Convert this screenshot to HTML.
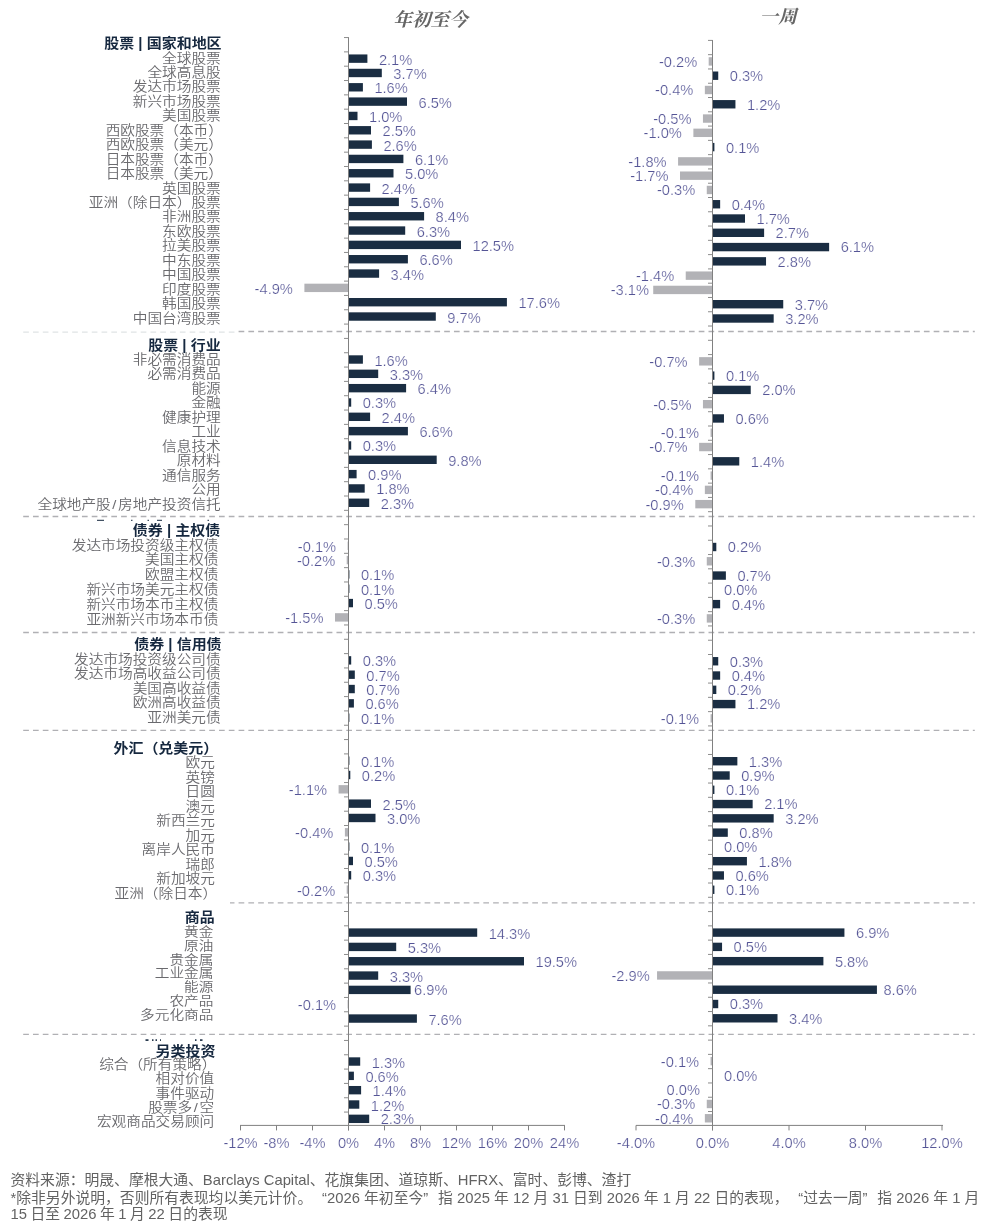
<!DOCTYPE html>
<html lang="zh-CN"><head><meta charset="utf-8"><title>市场表现</title>
<style>
html,body{margin:0;padding:0;background:#fff;}
body{width:993px;height:1231px;overflow:hidden;position:relative;}
svg{position:absolute;left:0;top:0;display:block;}
text{font-family:"Liberation Sans","Noto Sans CJK SC",sans-serif;text-spacing-trim:space-all;}
.d{font-size:14.67px;fill:#555596;stroke:#fff;stroke-width:0.24px;}
.c{font-size:14.67px;fill:#6a6a6e;font-weight:350;}
.h{font-size:15px;fill:#16283f;font-weight:700;}
.t{font-family:"Liberation Serif","Noto Serif CJK SC",serif;font-size:18.67px;font-weight:700;fill:#666;font-style:italic;}
.f{font-size:14.8px;fill:#626262;}
</style></head>
<body>
<svg width="993" height="1231" viewBox="0 0 993 1231">
<defs><clipPath id="cR"><rect x="237.5" y="0" width="760" height="1231"/></clipPath><clipPath id="cH"><rect x="-100" y="-12.8" width="200" height="30"/></clipPath><clipPath id="cR2"><rect x="230" y="0" width="760" height="1231"/></clipPath></defs>
<g id="shapes">
<line x1="23.20" y1="332.15" x2="236.00" y2="332.15" stroke="#e0e4e5" stroke-width="1.2" stroke-dasharray="5.7 4.09"/>
<line x1="23.20" y1="331.45" x2="974.80" y2="331.45" stroke="#b0b0b4" stroke-width="1.35" stroke-dasharray="5.7 4.09" clip-path="url(#cR)"/>
<line x1="23.20" y1="516.45" x2="974.80" y2="516.45" stroke="#b0b0b4" stroke-width="1.35" stroke-dasharray="5.7 4.09"/>
<line x1="23.20" y1="632.45" x2="974.80" y2="632.45" stroke="#b0b0b4" stroke-width="1.35" stroke-dasharray="5.7 4.09"/>
<line x1="23.20" y1="730.40" x2="974.80" y2="730.40" stroke="#b0b0b4" stroke-width="1.35" stroke-dasharray="5.7 4.09"/>
<line x1="23.20" y1="902.90" x2="974.80" y2="902.90" stroke="#b0b0b4" stroke-width="1.35" stroke-dasharray="5.7 4.09" clip-path="url(#cR2)"/>
<line x1="23.20" y1="1034.40" x2="974.80" y2="1034.40" stroke="#b0b0b4" stroke-width="1.35" stroke-dasharray="5.7 4.09"/>
<rect x="348.50" y="54.44" width="18.90" height="8.40" fill="#1a2d42"/>
<rect x="708.68" y="57.22" width="3.82" height="8.40" fill="#b2b2b6"/>
<rect x="348.50" y="68.77" width="33.30" height="8.40" fill="#1a2d42"/>
<rect x="712.50" y="71.50" width="5.74" height="8.40" fill="#1a2d42"/>
<rect x="348.50" y="83.09" width="14.40" height="8.40" fill="#1a2d42"/>
<rect x="704.85" y="85.79" width="7.65" height="8.40" fill="#b2b2b6"/>
<rect x="348.50" y="97.42" width="58.50" height="8.40" fill="#1a2d42"/>
<rect x="712.50" y="100.07" width="22.94" height="8.40" fill="#1a2d42"/>
<rect x="348.50" y="111.75" width="9.00" height="8.40" fill="#1a2d42"/>
<rect x="702.94" y="114.35" width="9.56" height="8.40" fill="#b2b2b6"/>
<rect x="348.50" y="126.08" width="22.50" height="8.40" fill="#1a2d42"/>
<rect x="693.38" y="128.63" width="19.12" height="8.40" fill="#b2b2b6"/>
<rect x="348.50" y="140.40" width="23.40" height="8.40" fill="#1a2d42"/>
<rect x="712.50" y="142.91" width="1.91" height="8.40" fill="#1a2d42"/>
<rect x="348.50" y="154.73" width="54.90" height="8.40" fill="#1a2d42"/>
<rect x="678.08" y="157.19" width="34.42" height="8.40" fill="#b2b2b6"/>
<rect x="348.50" y="169.06" width="45.00" height="8.40" fill="#1a2d42"/>
<rect x="680.00" y="171.48" width="32.50" height="8.40" fill="#b2b2b6"/>
<rect x="348.50" y="183.38" width="21.60" height="8.40" fill="#1a2d42"/>
<rect x="706.76" y="185.76" width="5.74" height="8.40" fill="#b2b2b6"/>
<rect x="348.50" y="197.71" width="50.40" height="8.40" fill="#1a2d42"/>
<rect x="712.50" y="200.04" width="7.65" height="8.40" fill="#1a2d42"/>
<rect x="348.50" y="212.04" width="75.60" height="8.40" fill="#1a2d42"/>
<rect x="712.50" y="214.32" width="32.50" height="8.40" fill="#1a2d42"/>
<rect x="348.50" y="226.36" width="56.70" height="8.40" fill="#1a2d42"/>
<rect x="712.50" y="228.60" width="51.62" height="8.40" fill="#1a2d42"/>
<rect x="348.50" y="240.69" width="112.50" height="8.40" fill="#1a2d42"/>
<rect x="712.50" y="242.88" width="116.63" height="8.40" fill="#1a2d42"/>
<rect x="348.50" y="255.02" width="59.40" height="8.40" fill="#1a2d42"/>
<rect x="712.50" y="257.16" width="53.54" height="8.40" fill="#1a2d42"/>
<rect x="348.50" y="269.35" width="30.60" height="8.40" fill="#1a2d42"/>
<rect x="685.73" y="271.45" width="26.77" height="8.40" fill="#b2b2b6"/>
<rect x="304.40" y="283.67" width="44.10" height="8.40" fill="#b2b2b6"/>
<rect x="653.23" y="285.73" width="59.27" height="8.40" fill="#b2b2b6"/>
<rect x="348.50" y="298.00" width="158.40" height="8.40" fill="#1a2d42"/>
<rect x="712.50" y="300.01" width="70.74" height="8.40" fill="#1a2d42"/>
<rect x="348.50" y="312.33" width="87.30" height="8.40" fill="#1a2d42"/>
<rect x="712.50" y="314.29" width="61.18" height="8.40" fill="#1a2d42"/>
<rect x="348.50" y="355.31" width="14.40" height="8.40" fill="#1a2d42"/>
<rect x="699.12" y="357.14" width="13.38" height="8.40" fill="#b2b2b6"/>
<rect x="348.50" y="369.63" width="29.70" height="8.40" fill="#1a2d42"/>
<rect x="712.50" y="371.42" width="1.91" height="8.40" fill="#1a2d42"/>
<rect x="348.50" y="383.96" width="57.60" height="8.40" fill="#1a2d42"/>
<rect x="712.50" y="385.70" width="38.24" height="8.40" fill="#1a2d42"/>
<rect x="348.50" y="398.29" width="2.70" height="8.40" fill="#1a2d42"/>
<rect x="702.94" y="399.98" width="9.56" height="8.40" fill="#b2b2b6"/>
<rect x="348.50" y="412.61" width="21.60" height="8.40" fill="#1a2d42"/>
<rect x="712.50" y="414.26" width="11.47" height="8.40" fill="#1a2d42"/>
<rect x="348.50" y="426.94" width="59.40" height="8.40" fill="#1a2d42"/>
<rect x="710.59" y="428.54" width="1.91" height="8.40" fill="#b2b2b6"/>
<rect x="348.50" y="441.27" width="2.70" height="8.40" fill="#1a2d42"/>
<rect x="699.12" y="442.83" width="13.38" height="8.40" fill="#b2b2b6"/>
<rect x="348.50" y="455.60" width="88.20" height="8.40" fill="#1a2d42"/>
<rect x="712.50" y="457.11" width="26.77" height="8.40" fill="#1a2d42"/>
<rect x="348.50" y="469.92" width="8.10" height="8.40" fill="#1a2d42"/>
<rect x="710.59" y="471.39" width="1.91" height="8.40" fill="#b2b2b6"/>
<rect x="348.50" y="484.25" width="16.20" height="8.40" fill="#1a2d42"/>
<rect x="704.85" y="485.67" width="7.65" height="8.40" fill="#b2b2b6"/>
<rect x="348.50" y="498.58" width="20.70" height="8.40" fill="#1a2d42"/>
<rect x="695.29" y="499.95" width="17.21" height="8.40" fill="#b2b2b6"/>
<rect x="347.60" y="541.56" width="0.90" height="8.40" fill="#b2b2b6"/>
<rect x="712.50" y="542.80" width="3.82" height="8.40" fill="#1a2d42"/>
<rect x="346.70" y="555.88" width="1.80" height="8.40" fill="#b2b2b6"/>
<rect x="706.76" y="557.08" width="5.74" height="8.40" fill="#b2b2b6"/>
<rect x="348.50" y="570.21" width="0.90" height="8.40" fill="#1a2d42"/>
<rect x="712.50" y="571.36" width="13.38" height="8.40" fill="#1a2d42"/>
<rect x="348.50" y="584.54" width="0.90" height="8.40" fill="#1a2d42"/>
<rect x="348.50" y="598.87" width="4.50" height="8.40" fill="#1a2d42"/>
<rect x="712.50" y="599.92" width="7.65" height="8.40" fill="#1a2d42"/>
<rect x="335.00" y="613.19" width="13.50" height="8.40" fill="#b2b2b6"/>
<rect x="706.76" y="614.20" width="5.74" height="8.40" fill="#b2b2b6"/>
<rect x="348.50" y="656.17" width="2.70" height="8.40" fill="#1a2d42"/>
<rect x="712.50" y="657.05" width="5.74" height="8.40" fill="#1a2d42"/>
<rect x="348.50" y="670.50" width="6.30" height="8.40" fill="#1a2d42"/>
<rect x="712.50" y="671.33" width="7.65" height="8.40" fill="#1a2d42"/>
<rect x="348.50" y="684.83" width="6.30" height="8.40" fill="#1a2d42"/>
<rect x="712.50" y="685.61" width="3.82" height="8.40" fill="#1a2d42"/>
<rect x="348.50" y="699.15" width="5.40" height="8.40" fill="#1a2d42"/>
<rect x="712.50" y="699.89" width="22.94" height="8.40" fill="#1a2d42"/>
<rect x="348.50" y="713.48" width="0.90" height="8.40" fill="#1a2d42"/>
<rect x="710.59" y="714.17" width="1.91" height="8.40" fill="#b2b2b6"/>
<rect x="348.50" y="756.46" width="0.90" height="8.40" fill="#1a2d42"/>
<rect x="712.50" y="757.02" width="24.86" height="8.40" fill="#1a2d42"/>
<rect x="348.50" y="770.79" width="1.80" height="8.40" fill="#1a2d42"/>
<rect x="712.50" y="771.30" width="17.21" height="8.40" fill="#1a2d42"/>
<rect x="338.60" y="785.12" width="9.90" height="8.40" fill="#b2b2b6"/>
<rect x="712.50" y="785.58" width="1.91" height="8.40" fill="#1a2d42"/>
<rect x="348.50" y="799.44" width="22.50" height="8.40" fill="#1a2d42"/>
<rect x="712.50" y="799.86" width="40.15" height="8.40" fill="#1a2d42"/>
<rect x="348.50" y="813.77" width="27.00" height="8.40" fill="#1a2d42"/>
<rect x="712.50" y="814.15" width="61.18" height="8.40" fill="#1a2d42"/>
<rect x="344.90" y="828.10" width="3.60" height="8.40" fill="#b2b2b6"/>
<rect x="712.50" y="828.43" width="15.30" height="8.40" fill="#1a2d42"/>
<rect x="348.50" y="842.42" width="0.90" height="8.40" fill="#1a2d42"/>
<rect x="348.50" y="856.75" width="4.50" height="8.40" fill="#1a2d42"/>
<rect x="712.50" y="856.99" width="34.42" height="8.40" fill="#1a2d42"/>
<rect x="348.50" y="871.08" width="2.70" height="8.40" fill="#1a2d42"/>
<rect x="712.50" y="871.27" width="11.47" height="8.40" fill="#1a2d42"/>
<rect x="346.70" y="885.40" width="1.80" height="8.40" fill="#b2b2b6"/>
<rect x="712.50" y="885.55" width="1.91" height="8.40" fill="#1a2d42"/>
<rect x="348.50" y="928.39" width="128.70" height="8.40" fill="#1a2d42"/>
<rect x="712.50" y="928.40" width="131.93" height="8.40" fill="#1a2d42"/>
<rect x="348.50" y="942.71" width="47.70" height="8.40" fill="#1a2d42"/>
<rect x="712.50" y="942.68" width="9.56" height="8.40" fill="#1a2d42"/>
<rect x="348.50" y="957.04" width="175.50" height="8.40" fill="#1a2d42"/>
<rect x="712.50" y="956.96" width="110.90" height="8.40" fill="#1a2d42"/>
<rect x="348.50" y="971.37" width="29.70" height="8.40" fill="#1a2d42"/>
<rect x="657.05" y="971.24" width="55.45" height="8.40" fill="#b2b2b6"/>
<rect x="348.50" y="985.69" width="62.10" height="8.40" fill="#1a2d42"/>
<rect x="712.50" y="985.52" width="164.43" height="8.40" fill="#1a2d42"/>
<rect x="347.60" y="1000.02" width="0.90" height="8.40" fill="#b2b2b6"/>
<rect x="712.50" y="999.81" width="5.74" height="8.40" fill="#1a2d42"/>
<rect x="348.50" y="1014.35" width="68.40" height="8.40" fill="#1a2d42"/>
<rect x="712.50" y="1014.09" width="65.01" height="8.40" fill="#1a2d42"/>
<rect x="348.50" y="1057.33" width="11.70" height="8.40" fill="#1a2d42"/>
<rect x="710.59" y="1056.93" width="1.91" height="8.40" fill="#b2b2b6"/>
<rect x="348.50" y="1071.66" width="5.40" height="8.40" fill="#1a2d42"/>
<rect x="348.50" y="1085.98" width="12.60" height="8.40" fill="#1a2d42"/>
<rect x="348.50" y="1100.31" width="10.80" height="8.40" fill="#1a2d42"/>
<rect x="706.76" y="1099.78" width="5.74" height="8.40" fill="#b2b2b6"/>
<rect x="348.50" y="1114.64" width="20.70" height="8.40" fill="#1a2d42"/>
<rect x="704.85" y="1114.06" width="7.65" height="8.40" fill="#b2b2b6"/>
<line x1="348.50" y1="37.15" x2="348.50" y2="1130.40" stroke="#808080" stroke-width="1" />
<line x1="344.00" y1="37.55" x2="348.50" y2="37.55" stroke="#8c8c8c" stroke-width="1" />
<line x1="344.00" y1="51.88" x2="348.50" y2="51.88" stroke="#8c8c8c" stroke-width="1" />
<line x1="344.00" y1="66.20" x2="348.50" y2="66.20" stroke="#8c8c8c" stroke-width="1" />
<line x1="344.00" y1="80.53" x2="348.50" y2="80.53" stroke="#8c8c8c" stroke-width="1" />
<line x1="344.00" y1="94.86" x2="348.50" y2="94.86" stroke="#8c8c8c" stroke-width="1" />
<line x1="344.00" y1="109.18" x2="348.50" y2="109.18" stroke="#8c8c8c" stroke-width="1" />
<line x1="344.00" y1="123.51" x2="348.50" y2="123.51" stroke="#8c8c8c" stroke-width="1" />
<line x1="344.00" y1="137.84" x2="348.50" y2="137.84" stroke="#8c8c8c" stroke-width="1" />
<line x1="344.00" y1="152.17" x2="348.50" y2="152.17" stroke="#8c8c8c" stroke-width="1" />
<line x1="344.00" y1="166.49" x2="348.50" y2="166.49" stroke="#8c8c8c" stroke-width="1" />
<line x1="344.00" y1="180.82" x2="348.50" y2="180.82" stroke="#8c8c8c" stroke-width="1" />
<line x1="344.00" y1="195.15" x2="348.50" y2="195.15" stroke="#8c8c8c" stroke-width="1" />
<line x1="344.00" y1="209.47" x2="348.50" y2="209.47" stroke="#8c8c8c" stroke-width="1" />
<line x1="344.00" y1="223.80" x2="348.50" y2="223.80" stroke="#8c8c8c" stroke-width="1" />
<line x1="344.00" y1="238.13" x2="348.50" y2="238.13" stroke="#8c8c8c" stroke-width="1" />
<line x1="344.00" y1="252.45" x2="348.50" y2="252.45" stroke="#8c8c8c" stroke-width="1" />
<line x1="344.00" y1="266.78" x2="348.50" y2="266.78" stroke="#8c8c8c" stroke-width="1" />
<line x1="344.00" y1="281.11" x2="348.50" y2="281.11" stroke="#8c8c8c" stroke-width="1" />
<line x1="344.00" y1="295.44" x2="348.50" y2="295.44" stroke="#8c8c8c" stroke-width="1" />
<line x1="344.00" y1="309.76" x2="348.50" y2="309.76" stroke="#8c8c8c" stroke-width="1" />
<line x1="344.00" y1="324.09" x2="348.50" y2="324.09" stroke="#8c8c8c" stroke-width="1" />
<line x1="344.00" y1="338.42" x2="348.50" y2="338.42" stroke="#8c8c8c" stroke-width="1" />
<line x1="344.00" y1="352.74" x2="348.50" y2="352.74" stroke="#8c8c8c" stroke-width="1" />
<line x1="344.00" y1="367.07" x2="348.50" y2="367.07" stroke="#8c8c8c" stroke-width="1" />
<line x1="344.00" y1="381.40" x2="348.50" y2="381.40" stroke="#8c8c8c" stroke-width="1" />
<line x1="344.00" y1="395.72" x2="348.50" y2="395.72" stroke="#8c8c8c" stroke-width="1" />
<line x1="344.00" y1="410.05" x2="348.50" y2="410.05" stroke="#8c8c8c" stroke-width="1" />
<line x1="344.00" y1="424.38" x2="348.50" y2="424.38" stroke="#8c8c8c" stroke-width="1" />
<line x1="344.00" y1="438.71" x2="348.50" y2="438.71" stroke="#8c8c8c" stroke-width="1" />
<line x1="344.00" y1="453.03" x2="348.50" y2="453.03" stroke="#8c8c8c" stroke-width="1" />
<line x1="344.00" y1="467.36" x2="348.50" y2="467.36" stroke="#8c8c8c" stroke-width="1" />
<line x1="344.00" y1="481.69" x2="348.50" y2="481.69" stroke="#8c8c8c" stroke-width="1" />
<line x1="344.00" y1="496.01" x2="348.50" y2="496.01" stroke="#8c8c8c" stroke-width="1" />
<line x1="344.00" y1="510.34" x2="348.50" y2="510.34" stroke="#8c8c8c" stroke-width="1" />
<line x1="344.00" y1="524.67" x2="348.50" y2="524.67" stroke="#8c8c8c" stroke-width="1" />
<line x1="344.00" y1="538.99" x2="348.50" y2="538.99" stroke="#8c8c8c" stroke-width="1" />
<line x1="344.00" y1="553.32" x2="348.50" y2="553.32" stroke="#8c8c8c" stroke-width="1" />
<line x1="344.00" y1="567.65" x2="348.50" y2="567.65" stroke="#8c8c8c" stroke-width="1" />
<line x1="344.00" y1="581.97" x2="348.50" y2="581.97" stroke="#8c8c8c" stroke-width="1" />
<line x1="344.00" y1="596.30" x2="348.50" y2="596.30" stroke="#8c8c8c" stroke-width="1" />
<line x1="344.00" y1="610.63" x2="348.50" y2="610.63" stroke="#8c8c8c" stroke-width="1" />
<line x1="344.00" y1="624.96" x2="348.50" y2="624.96" stroke="#8c8c8c" stroke-width="1" />
<line x1="344.00" y1="639.28" x2="348.50" y2="639.28" stroke="#8c8c8c" stroke-width="1" />
<line x1="344.00" y1="653.61" x2="348.50" y2="653.61" stroke="#8c8c8c" stroke-width="1" />
<line x1="344.00" y1="667.94" x2="348.50" y2="667.94" stroke="#8c8c8c" stroke-width="1" />
<line x1="344.00" y1="682.26" x2="348.50" y2="682.26" stroke="#8c8c8c" stroke-width="1" />
<line x1="344.00" y1="696.59" x2="348.50" y2="696.59" stroke="#8c8c8c" stroke-width="1" />
<line x1="344.00" y1="710.92" x2="348.50" y2="710.92" stroke="#8c8c8c" stroke-width="1" />
<line x1="344.00" y1="725.24" x2="348.50" y2="725.24" stroke="#8c8c8c" stroke-width="1" />
<line x1="344.00" y1="739.57" x2="348.50" y2="739.57" stroke="#8c8c8c" stroke-width="1" />
<line x1="344.00" y1="753.90" x2="348.50" y2="753.90" stroke="#8c8c8c" stroke-width="1" />
<line x1="344.00" y1="768.23" x2="348.50" y2="768.23" stroke="#8c8c8c" stroke-width="1" />
<line x1="344.00" y1="782.55" x2="348.50" y2="782.55" stroke="#8c8c8c" stroke-width="1" />
<line x1="344.00" y1="796.88" x2="348.50" y2="796.88" stroke="#8c8c8c" stroke-width="1" />
<line x1="344.00" y1="811.21" x2="348.50" y2="811.21" stroke="#8c8c8c" stroke-width="1" />
<line x1="344.00" y1="825.53" x2="348.50" y2="825.53" stroke="#8c8c8c" stroke-width="1" />
<line x1="344.00" y1="839.86" x2="348.50" y2="839.86" stroke="#8c8c8c" stroke-width="1" />
<line x1="344.00" y1="854.19" x2="348.50" y2="854.19" stroke="#8c8c8c" stroke-width="1" />
<line x1="344.00" y1="868.51" x2="348.50" y2="868.51" stroke="#8c8c8c" stroke-width="1" />
<line x1="344.00" y1="882.84" x2="348.50" y2="882.84" stroke="#8c8c8c" stroke-width="1" />
<line x1="344.00" y1="897.17" x2="348.50" y2="897.17" stroke="#8c8c8c" stroke-width="1" />
<line x1="344.00" y1="911.50" x2="348.50" y2="911.50" stroke="#8c8c8c" stroke-width="1" />
<line x1="344.00" y1="925.82" x2="348.50" y2="925.82" stroke="#8c8c8c" stroke-width="1" />
<line x1="344.00" y1="940.15" x2="348.50" y2="940.15" stroke="#8c8c8c" stroke-width="1" />
<line x1="344.00" y1="954.48" x2="348.50" y2="954.48" stroke="#8c8c8c" stroke-width="1" />
<line x1="344.00" y1="968.80" x2="348.50" y2="968.80" stroke="#8c8c8c" stroke-width="1" />
<line x1="344.00" y1="983.13" x2="348.50" y2="983.13" stroke="#8c8c8c" stroke-width="1" />
<line x1="344.00" y1="997.46" x2="348.50" y2="997.46" stroke="#8c8c8c" stroke-width="1" />
<line x1="344.00" y1="1011.78" x2="348.50" y2="1011.78" stroke="#8c8c8c" stroke-width="1" />
<line x1="344.00" y1="1026.11" x2="348.50" y2="1026.11" stroke="#8c8c8c" stroke-width="1" />
<line x1="344.00" y1="1040.44" x2="348.50" y2="1040.44" stroke="#8c8c8c" stroke-width="1" />
<line x1="344.00" y1="1054.77" x2="348.50" y2="1054.77" stroke="#8c8c8c" stroke-width="1" />
<line x1="344.00" y1="1069.09" x2="348.50" y2="1069.09" stroke="#8c8c8c" stroke-width="1" />
<line x1="344.00" y1="1083.42" x2="348.50" y2="1083.42" stroke="#8c8c8c" stroke-width="1" />
<line x1="344.00" y1="1097.75" x2="348.50" y2="1097.75" stroke="#8c8c8c" stroke-width="1" />
<line x1="344.00" y1="1112.07" x2="348.50" y2="1112.07" stroke="#8c8c8c" stroke-width="1" />
<line x1="712.50" y1="40.00" x2="712.50" y2="1130.40" stroke="#808080" stroke-width="1" />
<line x1="708.00" y1="40.40" x2="712.50" y2="40.40" stroke="#8c8c8c" stroke-width="1" />
<line x1="708.00" y1="54.68" x2="712.50" y2="54.68" stroke="#8c8c8c" stroke-width="1" />
<line x1="708.00" y1="68.96" x2="712.50" y2="68.96" stroke="#8c8c8c" stroke-width="1" />
<line x1="708.00" y1="83.24" x2="712.50" y2="83.24" stroke="#8c8c8c" stroke-width="1" />
<line x1="708.00" y1="97.53" x2="712.50" y2="97.53" stroke="#8c8c8c" stroke-width="1" />
<line x1="708.00" y1="111.81" x2="712.50" y2="111.81" stroke="#8c8c8c" stroke-width="1" />
<line x1="708.00" y1="126.09" x2="712.50" y2="126.09" stroke="#8c8c8c" stroke-width="1" />
<line x1="708.00" y1="140.37" x2="712.50" y2="140.37" stroke="#8c8c8c" stroke-width="1" />
<line x1="708.00" y1="154.65" x2="712.50" y2="154.65" stroke="#8c8c8c" stroke-width="1" />
<line x1="708.00" y1="168.93" x2="712.50" y2="168.93" stroke="#8c8c8c" stroke-width="1" />
<line x1="708.00" y1="183.22" x2="712.50" y2="183.22" stroke="#8c8c8c" stroke-width="1" />
<line x1="708.00" y1="197.50" x2="712.50" y2="197.50" stroke="#8c8c8c" stroke-width="1" />
<line x1="708.00" y1="211.78" x2="712.50" y2="211.78" stroke="#8c8c8c" stroke-width="1" />
<line x1="708.00" y1="226.06" x2="712.50" y2="226.06" stroke="#8c8c8c" stroke-width="1" />
<line x1="708.00" y1="240.34" x2="712.50" y2="240.34" stroke="#8c8c8c" stroke-width="1" />
<line x1="708.00" y1="254.62" x2="712.50" y2="254.62" stroke="#8c8c8c" stroke-width="1" />
<line x1="708.00" y1="268.91" x2="712.50" y2="268.91" stroke="#8c8c8c" stroke-width="1" />
<line x1="708.00" y1="283.19" x2="712.50" y2="283.19" stroke="#8c8c8c" stroke-width="1" />
<line x1="708.00" y1="297.47" x2="712.50" y2="297.47" stroke="#8c8c8c" stroke-width="1" />
<line x1="708.00" y1="311.75" x2="712.50" y2="311.75" stroke="#8c8c8c" stroke-width="1" />
<line x1="708.00" y1="326.03" x2="712.50" y2="326.03" stroke="#8c8c8c" stroke-width="1" />
<line x1="708.00" y1="340.31" x2="712.50" y2="340.31" stroke="#8c8c8c" stroke-width="1" />
<line x1="708.00" y1="354.59" x2="712.50" y2="354.59" stroke="#8c8c8c" stroke-width="1" />
<line x1="708.00" y1="368.88" x2="712.50" y2="368.88" stroke="#8c8c8c" stroke-width="1" />
<line x1="708.00" y1="383.16" x2="712.50" y2="383.16" stroke="#8c8c8c" stroke-width="1" />
<line x1="708.00" y1="397.44" x2="712.50" y2="397.44" stroke="#8c8c8c" stroke-width="1" />
<line x1="708.00" y1="411.72" x2="712.50" y2="411.72" stroke="#8c8c8c" stroke-width="1" />
<line x1="708.00" y1="426.00" x2="712.50" y2="426.00" stroke="#8c8c8c" stroke-width="1" />
<line x1="708.00" y1="440.28" x2="712.50" y2="440.28" stroke="#8c8c8c" stroke-width="1" />
<line x1="708.00" y1="454.57" x2="712.50" y2="454.57" stroke="#8c8c8c" stroke-width="1" />
<line x1="708.00" y1="468.85" x2="712.50" y2="468.85" stroke="#8c8c8c" stroke-width="1" />
<line x1="708.00" y1="483.13" x2="712.50" y2="483.13" stroke="#8c8c8c" stroke-width="1" />
<line x1="708.00" y1="497.41" x2="712.50" y2="497.41" stroke="#8c8c8c" stroke-width="1" />
<line x1="708.00" y1="511.69" x2="712.50" y2="511.69" stroke="#8c8c8c" stroke-width="1" />
<line x1="708.00" y1="525.97" x2="712.50" y2="525.97" stroke="#8c8c8c" stroke-width="1" />
<line x1="708.00" y1="540.26" x2="712.50" y2="540.26" stroke="#8c8c8c" stroke-width="1" />
<line x1="708.00" y1="554.54" x2="712.50" y2="554.54" stroke="#8c8c8c" stroke-width="1" />
<line x1="708.00" y1="568.82" x2="712.50" y2="568.82" stroke="#8c8c8c" stroke-width="1" />
<line x1="708.00" y1="583.10" x2="712.50" y2="583.10" stroke="#8c8c8c" stroke-width="1" />
<line x1="708.00" y1="597.38" x2="712.50" y2="597.38" stroke="#8c8c8c" stroke-width="1" />
<line x1="708.00" y1="611.66" x2="712.50" y2="611.66" stroke="#8c8c8c" stroke-width="1" />
<line x1="708.00" y1="625.94" x2="712.50" y2="625.94" stroke="#8c8c8c" stroke-width="1" />
<line x1="708.00" y1="640.23" x2="712.50" y2="640.23" stroke="#8c8c8c" stroke-width="1" />
<line x1="708.00" y1="654.51" x2="712.50" y2="654.51" stroke="#8c8c8c" stroke-width="1" />
<line x1="708.00" y1="668.79" x2="712.50" y2="668.79" stroke="#8c8c8c" stroke-width="1" />
<line x1="708.00" y1="683.07" x2="712.50" y2="683.07" stroke="#8c8c8c" stroke-width="1" />
<line x1="708.00" y1="697.35" x2="712.50" y2="697.35" stroke="#8c8c8c" stroke-width="1" />
<line x1="708.00" y1="711.63" x2="712.50" y2="711.63" stroke="#8c8c8c" stroke-width="1" />
<line x1="708.00" y1="725.92" x2="712.50" y2="725.92" stroke="#8c8c8c" stroke-width="1" />
<line x1="708.00" y1="740.20" x2="712.50" y2="740.20" stroke="#8c8c8c" stroke-width="1" />
<line x1="708.00" y1="754.48" x2="712.50" y2="754.48" stroke="#8c8c8c" stroke-width="1" />
<line x1="708.00" y1="768.76" x2="712.50" y2="768.76" stroke="#8c8c8c" stroke-width="1" />
<line x1="708.00" y1="783.04" x2="712.50" y2="783.04" stroke="#8c8c8c" stroke-width="1" />
<line x1="708.00" y1="797.32" x2="712.50" y2="797.32" stroke="#8c8c8c" stroke-width="1" />
<line x1="708.00" y1="811.61" x2="712.50" y2="811.61" stroke="#8c8c8c" stroke-width="1" />
<line x1="708.00" y1="825.89" x2="712.50" y2="825.89" stroke="#8c8c8c" stroke-width="1" />
<line x1="708.00" y1="840.17" x2="712.50" y2="840.17" stroke="#8c8c8c" stroke-width="1" />
<line x1="708.00" y1="854.45" x2="712.50" y2="854.45" stroke="#8c8c8c" stroke-width="1" />
<line x1="708.00" y1="868.73" x2="712.50" y2="868.73" stroke="#8c8c8c" stroke-width="1" />
<line x1="708.00" y1="883.01" x2="712.50" y2="883.01" stroke="#8c8c8c" stroke-width="1" />
<line x1="708.00" y1="897.29" x2="712.50" y2="897.29" stroke="#8c8c8c" stroke-width="1" />
<line x1="708.00" y1="911.58" x2="712.50" y2="911.58" stroke="#8c8c8c" stroke-width="1" />
<line x1="708.00" y1="925.86" x2="712.50" y2="925.86" stroke="#8c8c8c" stroke-width="1" />
<line x1="708.00" y1="940.14" x2="712.50" y2="940.14" stroke="#8c8c8c" stroke-width="1" />
<line x1="708.00" y1="954.42" x2="712.50" y2="954.42" stroke="#8c8c8c" stroke-width="1" />
<line x1="708.00" y1="968.70" x2="712.50" y2="968.70" stroke="#8c8c8c" stroke-width="1" />
<line x1="708.00" y1="982.98" x2="712.50" y2="982.98" stroke="#8c8c8c" stroke-width="1" />
<line x1="708.00" y1="997.27" x2="712.50" y2="997.27" stroke="#8c8c8c" stroke-width="1" />
<line x1="708.00" y1="1011.55" x2="712.50" y2="1011.55" stroke="#8c8c8c" stroke-width="1" />
<line x1="708.00" y1="1025.83" x2="712.50" y2="1025.83" stroke="#8c8c8c" stroke-width="1" />
<line x1="708.00" y1="1040.11" x2="712.50" y2="1040.11" stroke="#8c8c8c" stroke-width="1" />
<line x1="708.00" y1="1054.39" x2="712.50" y2="1054.39" stroke="#8c8c8c" stroke-width="1" />
<line x1="708.00" y1="1068.67" x2="712.50" y2="1068.67" stroke="#8c8c8c" stroke-width="1" />
<line x1="708.00" y1="1082.96" x2="712.50" y2="1082.96" stroke="#8c8c8c" stroke-width="1" />
<line x1="708.00" y1="1097.24" x2="712.50" y2="1097.24" stroke="#8c8c8c" stroke-width="1" />
<line x1="708.00" y1="1111.52" x2="712.50" y2="1111.52" stroke="#8c8c8c" stroke-width="1" />
<line x1="240.00" y1="1125.40" x2="565.00" y2="1125.40" stroke="#808080" stroke-width="1" />
<line x1="240.50" y1="1125.40" x2="240.50" y2="1130.40" stroke="#808080" stroke-width="1" />
<line x1="276.50" y1="1125.40" x2="276.50" y2="1130.40" stroke="#808080" stroke-width="1" />
<line x1="312.50" y1="1125.40" x2="312.50" y2="1130.40" stroke="#808080" stroke-width="1" />
<line x1="348.50" y1="1125.40" x2="348.50" y2="1130.40" stroke="#808080" stroke-width="1" />
<line x1="384.50" y1="1125.40" x2="384.50" y2="1130.40" stroke="#808080" stroke-width="1" />
<line x1="420.50" y1="1125.40" x2="420.50" y2="1130.40" stroke="#808080" stroke-width="1" />
<line x1="456.50" y1="1125.40" x2="456.50" y2="1130.40" stroke="#808080" stroke-width="1" />
<line x1="492.50" y1="1125.40" x2="492.50" y2="1130.40" stroke="#808080" stroke-width="1" />
<line x1="528.50" y1="1125.40" x2="528.50" y2="1130.40" stroke="#808080" stroke-width="1" />
<line x1="564.50" y1="1125.40" x2="564.50" y2="1130.40" stroke="#808080" stroke-width="1" />
<line x1="636.00" y1="1125.40" x2="943.00" y2="1125.40" stroke="#808080" stroke-width="1" />
<line x1="636.00" y1="1125.40" x2="636.00" y2="1130.40" stroke="#808080" stroke-width="1" />
<line x1="712.50" y1="1125.40" x2="712.50" y2="1130.40" stroke="#808080" stroke-width="1" />
<line x1="789.00" y1="1125.40" x2="789.00" y2="1130.40" stroke="#808080" stroke-width="1" />
<line x1="865.50" y1="1125.40" x2="865.50" y2="1130.40" stroke="#808080" stroke-width="1" />
<line x1="942.00" y1="1125.40" x2="942.00" y2="1130.40" stroke="#808080" stroke-width="1" />
<rect x="97.00" y="519.80" width="7.00" height="1.00" fill="#16283f"/>
<rect x="131.00" y="519.80" width="1.50" height="1.00" fill="#16283f"/>
<rect x="147.50" y="519.80" width="1.50" height="1.00" fill="#16283f"/>
<rect x="157.00" y="519.80" width="5.00" height="1.00" fill="#16283f"/>
<rect x="207.50" y="519.80" width="1.50" height="1.00" fill="#16283f"/>
<rect x="145.50" y="1039.30" width="3.00" height="1.60" fill="#16283f"/>
<rect x="152.00" y="1039.30" width="1.50" height="1.60" fill="#16283f"/>
<rect x="155.50" y="1039.30" width="1.50" height="1.60" fill="#16283f"/>
<rect x="160.00" y="1039.30" width="1.00" height="1.60" fill="#16283f"/>
<rect x="195.00" y="1039.30" width="1.50" height="1.60" fill="#16283f"/>
<rect x="200.00" y="1039.30" width="2.50" height="1.60" fill="#16283f"/>
</g>
<g id="labels">
<text transform="translate(221.60,48.20) scale(1,0.93)" class="h" text-anchor="end" >股票<tspan class="bar"> | </tspan>国家和地区</text>
<text transform="translate(220.70,62.60) scale(1,0.92)" class="c" text-anchor="end" >全球股票</text>
<text x="378.90" y="64.64" class="d" text-anchor="start" >2.1%</text>
<text x="697.18" y="66.82" class="d" text-anchor="end" >-0.2%</text>
<text transform="translate(220.70,77.04) scale(1,0.92)" class="c" text-anchor="end" >全球高息股</text>
<text x="393.30" y="78.97" class="d" text-anchor="start" >3.7%</text>
<text x="729.74" y="81.10" class="d" text-anchor="start" >0.3%</text>
<text transform="translate(220.70,91.49) scale(1,0.92)" class="c" text-anchor="end" >发达市场股票</text>
<text x="374.40" y="93.29" class="d" text-anchor="start" >1.6%</text>
<text x="693.35" y="95.39" class="d" text-anchor="end" >-0.4%</text>
<text transform="translate(220.70,105.93) scale(1,0.92)" class="c" text-anchor="end" >新兴市场股票</text>
<text x="418.50" y="107.62" class="d" text-anchor="start" >6.5%</text>
<text x="746.94" y="109.67" class="d" text-anchor="start" >1.2%</text>
<text transform="translate(220.70,120.38) scale(1,0.92)" class="c" text-anchor="end" >美国股票</text>
<text x="369.00" y="121.95" class="d" text-anchor="start" >1.0%</text>
<text x="691.44" y="123.95" class="d" text-anchor="end" >-0.5%</text>
<text transform="translate(222.90,134.82) scale(1,0.92)" class="c" text-anchor="end" >西欧股票（本币）</text>
<text x="382.50" y="136.28" class="d" text-anchor="start" >2.5%</text>
<text x="681.88" y="138.23" class="d" text-anchor="end" >-1.0%</text>
<text transform="translate(222.90,149.27) scale(1,0.92)" class="c" text-anchor="end" >西欧股票（美元）</text>
<text x="383.40" y="150.60" class="d" text-anchor="start" >2.6%</text>
<text x="725.91" y="152.51" class="d" text-anchor="start" >0.1%</text>
<text transform="translate(222.90,163.71) scale(1,0.92)" class="c" text-anchor="end" >日本股票（本币）</text>
<text x="414.90" y="164.93" class="d" text-anchor="start" >6.1%</text>
<text x="666.58" y="166.79" class="d" text-anchor="end" >-1.8%</text>
<text transform="translate(222.90,178.16) scale(1,0.92)" class="c" text-anchor="end" >日本股票（美元）</text>
<text x="405.00" y="179.26" class="d" text-anchor="start" >5.0%</text>
<text x="668.50" y="181.08" class="d" text-anchor="end" >-1.7%</text>
<text transform="translate(220.70,192.60) scale(1,0.92)" class="c" text-anchor="end" >英国股票</text>
<text x="381.60" y="193.58" class="d" text-anchor="start" >2.4%</text>
<text x="695.26" y="195.36" class="d" text-anchor="end" >-0.3%</text>
<text transform="translate(220.70,207.04) scale(1,0.92)" class="c" text-anchor="end" >亚洲（除日本）股票</text>
<text x="410.40" y="207.91" class="d" text-anchor="start" >5.6%</text>
<text x="731.65" y="209.64" class="d" text-anchor="start" >0.4%</text>
<text transform="translate(220.70,221.49) scale(1,0.92)" class="c" text-anchor="end" >非洲股票</text>
<text x="435.60" y="222.24" class="d" text-anchor="start" >8.4%</text>
<text x="756.50" y="223.92" class="d" text-anchor="start" >1.7%</text>
<text transform="translate(220.70,235.93) scale(1,0.92)" class="c" text-anchor="end" >东欧股票</text>
<text x="416.70" y="236.56" class="d" text-anchor="start" >6.3%</text>
<text x="775.62" y="238.20" class="d" text-anchor="start" >2.7%</text>
<text transform="translate(220.70,250.38) scale(1,0.92)" class="c" text-anchor="end" >拉美股票</text>
<text x="472.50" y="250.89" class="d" text-anchor="start" >12.5%</text>
<text x="840.63" y="252.48" class="d" text-anchor="start" >6.1%</text>
<text transform="translate(220.70,264.82) scale(1,0.92)" class="c" text-anchor="end" >中东股票</text>
<text x="419.40" y="265.22" class="d" text-anchor="start" >6.6%</text>
<text x="777.54" y="266.76" class="d" text-anchor="start" >2.8%</text>
<text transform="translate(220.70,279.27) scale(1,0.92)" class="c" text-anchor="end" >中国股票</text>
<text x="390.60" y="279.55" class="d" text-anchor="start" >3.4%</text>
<text x="674.23" y="281.05" class="d" text-anchor="end" >-1.4%</text>
<text transform="translate(220.70,293.71) scale(1,0.92)" class="c" text-anchor="end" >印度股票</text>
<text x="292.90" y="293.87" class="d" text-anchor="end" >-4.9%</text>
<text x="649.03" y="295.33" class="d" text-anchor="end" >-3.1%</text>
<text transform="translate(220.70,308.16) scale(1,0.92)" class="c" text-anchor="end" >韩国股票</text>
<text x="518.40" y="308.20" class="d" text-anchor="start" >17.6%</text>
<text x="794.74" y="309.61" class="d" text-anchor="start" >3.7%</text>
<text transform="translate(220.70,322.60) scale(1,0.92)" class="c" text-anchor="end" >中国台湾股票</text>
<text x="447.30" y="322.53" class="d" text-anchor="start" >9.7%</text>
<text x="785.18" y="323.89" class="d" text-anchor="start" >3.2%</text>
<text transform="translate(220.70,350.20) scale(1,0.93)" class="h" text-anchor="end" >股票<tspan class="bar"> | </tspan>行业</text>
<text transform="translate(220.70,363.60) scale(1,0.92)" class="c" text-anchor="end" >非必需消费品</text>
<text x="374.40" y="365.51" class="d" text-anchor="start" >1.6%</text>
<text x="687.62" y="366.74" class="d" text-anchor="end" >-0.7%</text>
<text transform="translate(220.70,378.10) scale(1,0.92)" class="c" text-anchor="end" >必需消费品</text>
<text x="389.70" y="379.83" class="d" text-anchor="start" >3.3%</text>
<text x="725.91" y="381.02" class="d" text-anchor="start" >0.1%</text>
<text transform="translate(220.70,392.60) scale(1,0.92)" class="c" text-anchor="end" >能源</text>
<text x="417.60" y="394.16" class="d" text-anchor="start" >6.4%</text>
<text x="762.24" y="395.30" class="d" text-anchor="start" >2.0%</text>
<text transform="translate(220.70,407.10) scale(1,0.92)" class="c" text-anchor="end" >金融</text>
<text x="362.70" y="408.49" class="d" text-anchor="start" >0.3%</text>
<text x="691.44" y="409.58" class="d" text-anchor="end" >-0.5%</text>
<text transform="translate(220.70,421.60) scale(1,0.92)" class="c" text-anchor="end" >健康护理</text>
<text x="381.60" y="422.81" class="d" text-anchor="start" >2.4%</text>
<text x="735.47" y="423.86" class="d" text-anchor="start" >0.6%</text>
<text transform="translate(220.70,436.10) scale(1,0.92)" class="c" text-anchor="end" >工业</text>
<text x="419.40" y="437.14" class="d" text-anchor="start" >6.6%</text>
<text x="699.09" y="438.14" class="d" text-anchor="end" >-0.1%</text>
<text transform="translate(220.70,450.60) scale(1,0.92)" class="c" text-anchor="end" >信息技术</text>
<text x="362.70" y="451.47" class="d" text-anchor="start" >0.3%</text>
<text x="687.62" y="452.43" class="d" text-anchor="end" >-0.7%</text>
<text transform="translate(220.70,465.10) scale(1,0.92)" class="c" text-anchor="end" >原材料</text>
<text x="448.20" y="465.80" class="d" text-anchor="start" >9.8%</text>
<text x="750.77" y="466.71" class="d" text-anchor="start" >1.4%</text>
<text transform="translate(220.70,479.60) scale(1,0.92)" class="c" text-anchor="end" >通信服务</text>
<text x="368.10" y="480.12" class="d" text-anchor="start" >0.9%</text>
<text x="699.09" y="480.99" class="d" text-anchor="end" >-0.1%</text>
<text transform="translate(220.70,494.10) scale(1,0.92)" class="c" text-anchor="end" >公用</text>
<text x="376.20" y="494.45" class="d" text-anchor="start" >1.8%</text>
<text x="693.35" y="495.27" class="d" text-anchor="end" >-0.4%</text>
<text transform="translate(220.70,508.60) scale(1,0.92)" class="c" text-anchor="end" >全球地产股<tspan dx="1.6">/</tspan><tspan dx="1.7">房地产投资信托</tspan></text>
<text x="380.70" y="508.78" class="d" text-anchor="start" >2.3%</text>
<text x="683.79" y="509.55" class="d" text-anchor="end" >-0.9%</text>
<text transform="translate(220.20,535.40) scale(1,0.93)" class="h" text-anchor="end" >债券<tspan class="bar"> | </tspan>主权债</text>
<text transform="translate(218.30,549.50) scale(1,0.92)" class="c" text-anchor="end" >发达市场投资级主权债</text>
<text x="336.10" y="551.76" class="d" text-anchor="end" >-0.1%</text>
<text x="727.82" y="552.40" class="d" text-anchor="start" >0.2%</text>
<text transform="translate(218.30,564.38) scale(1,0.92)" class="c" text-anchor="end" >美国主权债</text>
<text x="335.20" y="566.08" class="d" text-anchor="end" >-0.2%</text>
<text x="695.26" y="566.68" class="d" text-anchor="end" >-0.3%</text>
<text transform="translate(218.30,579.26) scale(1,0.92)" class="c" text-anchor="end" >欧盟主权债</text>
<text x="360.90" y="580.41" class="d" text-anchor="start" >0.1%</text>
<text x="737.38" y="580.96" class="d" text-anchor="start" >0.7%</text>
<text transform="translate(218.30,594.14) scale(1,0.92)" class="c" text-anchor="end" >新兴市场美元主权债</text>
<text x="360.90" y="594.74" class="d" text-anchor="start" >0.1%</text>
<text x="724.00" y="595.24" class="d" text-anchor="start" >0.0%</text>
<text transform="translate(218.30,609.02) scale(1,0.92)" class="c" text-anchor="end" >新兴市场本币主权债</text>
<text x="364.50" y="609.07" class="d" text-anchor="start" >0.5%</text>
<text x="731.65" y="609.52" class="d" text-anchor="start" >0.4%</text>
<text transform="translate(218.30,623.90) scale(1,0.92)" class="c" text-anchor="end" >亚洲新兴市场本币债</text>
<text x="323.50" y="623.39" class="d" text-anchor="end" >-1.5%</text>
<text x="695.26" y="623.80" class="d" text-anchor="end" >-0.3%</text>
<text transform="translate(221.60,649.20) scale(1,0.93)" class="h" text-anchor="end" >债券<tspan class="bar"> | </tspan>信用债</text>
<text transform="translate(220.60,663.50) scale(1,0.92)" class="c" text-anchor="end" >发达市场投资级公司债</text>
<text x="362.70" y="666.37" class="d" text-anchor="start" >0.3%</text>
<text x="729.74" y="666.65" class="d" text-anchor="start" >0.3%</text>
<text transform="translate(220.60,678.00) scale(1,0.92)" class="c" text-anchor="end" >发达市场高收益公司债</text>
<text x="366.30" y="680.70" class="d" text-anchor="start" >0.7%</text>
<text x="731.65" y="680.93" class="d" text-anchor="start" >0.4%</text>
<text transform="translate(220.60,692.50) scale(1,0.92)" class="c" text-anchor="end" >美国高收益债</text>
<text x="366.30" y="695.03" class="d" text-anchor="start" >0.7%</text>
<text x="727.82" y="695.21" class="d" text-anchor="start" >0.2%</text>
<text transform="translate(220.60,707.00) scale(1,0.92)" class="c" text-anchor="end" >欧洲高收益债</text>
<text x="365.40" y="709.35" class="d" text-anchor="start" >0.6%</text>
<text x="746.94" y="709.49" class="d" text-anchor="start" >1.2%</text>
<text transform="translate(220.60,721.50) scale(1,0.92)" class="c" text-anchor="end" >亚洲美元债</text>
<text x="360.90" y="723.68" class="d" text-anchor="start" >0.1%</text>
<text x="699.09" y="723.77" class="d" text-anchor="end" >-0.1%</text>
<text transform="translate(218.30,753.00) scale(1,0.93)" class="h" text-anchor="end" >外汇（兑美元）</text>
<text transform="translate(214.90,767.40) scale(1,0.92)" class="c" text-anchor="end" >欧元</text>
<text x="360.90" y="766.66" class="d" text-anchor="start" >0.1%</text>
<text x="748.86" y="766.62" class="d" text-anchor="start" >1.3%</text>
<text transform="translate(214.90,781.88) scale(1,0.92)" class="c" text-anchor="end" >英镑</text>
<text x="361.80" y="780.99" class="d" text-anchor="start" >0.2%</text>
<text x="741.21" y="780.90" class="d" text-anchor="start" >0.9%</text>
<text transform="translate(214.90,796.36) scale(1,0.92)" class="c" text-anchor="end" >日圆</text>
<text x="327.10" y="795.32" class="d" text-anchor="end" >-1.1%</text>
<text x="725.91" y="795.18" class="d" text-anchor="start" >0.1%</text>
<text transform="translate(214.90,810.83) scale(1,0.92)" class="c" text-anchor="end" >澳元</text>
<text x="382.50" y="809.64" class="d" text-anchor="start" >2.5%</text>
<text x="764.15" y="809.46" class="d" text-anchor="start" >2.1%</text>
<text transform="translate(214.90,825.31) scale(1,0.92)" class="c" text-anchor="end" >新西兰元</text>
<text x="387.00" y="823.97" class="d" text-anchor="start" >3.0%</text>
<text x="785.18" y="823.75" class="d" text-anchor="start" >3.2%</text>
<text transform="translate(214.90,839.79) scale(1,0.92)" class="c" text-anchor="end" >加元</text>
<text x="333.40" y="838.30" class="d" text-anchor="end" >-0.4%</text>
<text x="739.30" y="838.03" class="d" text-anchor="start" >0.8%</text>
<text transform="translate(214.90,854.27) scale(1,0.92)" class="c" text-anchor="end" >离岸人民币</text>
<text x="360.90" y="852.62" class="d" text-anchor="start" >0.1%</text>
<text x="724.00" y="852.31" class="d" text-anchor="start" >0.0%</text>
<text transform="translate(214.90,868.74) scale(1,0.92)" class="c" text-anchor="end" >瑞郎</text>
<text x="364.50" y="866.95" class="d" text-anchor="start" >0.5%</text>
<text x="758.42" y="866.59" class="d" text-anchor="start" >1.8%</text>
<text transform="translate(214.90,883.22) scale(1,0.92)" class="c" text-anchor="end" >新加坡元</text>
<text x="362.70" y="881.28" class="d" text-anchor="start" >0.3%</text>
<text x="735.47" y="880.87" class="d" text-anchor="start" >0.6%</text>
<text transform="translate(217.10,897.70) scale(1,0.92)" class="c" text-anchor="end" >亚洲（除日本）</text>
<text x="335.20" y="895.60" class="d" text-anchor="end" >-0.2%</text>
<text x="725.91" y="895.15" class="d" text-anchor="start" >0.1%</text>
<text transform="translate(214.70,922.10) scale(1,0.93)" class="h" text-anchor="end" >商品</text>
<text transform="translate(213.40,935.90) scale(1,0.89)" class="c" text-anchor="end" >黄金</text>
<text x="488.70" y="938.59" class="d" text-anchor="start" >14.3%</text>
<text x="855.93" y="938.00" class="d" text-anchor="start" >6.9%</text>
<text transform="translate(213.40,949.75) scale(1,0.89)" class="c" text-anchor="end" >原油</text>
<text x="407.70" y="952.91" class="d" text-anchor="start" >5.3%</text>
<text x="733.56" y="952.28" class="d" text-anchor="start" >0.5%</text>
<text transform="translate(213.40,963.60) scale(1,0.89)" class="c" text-anchor="end" >贵金属</text>
<text x="535.50" y="967.24" class="d" text-anchor="start" >19.5%</text>
<text x="834.90" y="966.56" class="d" text-anchor="start" >5.8%</text>
<text transform="translate(213.40,977.45) scale(1,0.89)" class="c" text-anchor="end" >工业金属</text>
<text x="389.70" y="981.57" class="d" text-anchor="start" >3.3%</text>
<text x="649.75" y="980.84" class="d" text-anchor="end" >-2.9%</text>
<text transform="translate(213.40,991.30) scale(1,0.89)" class="c" text-anchor="end" >能源</text>
<text x="414.10" y="994.59" class="d" text-anchor="start" >6.9%</text>
<text x="883.43" y="995.12" class="d" text-anchor="start" >8.6%</text>
<text transform="translate(213.40,1005.15) scale(1,0.89)" class="c" text-anchor="end" >农产品</text>
<text x="336.10" y="1010.22" class="d" text-anchor="end" >-0.1%</text>
<text x="729.74" y="1009.41" class="d" text-anchor="start" >0.3%</text>
<text transform="translate(213.40,1019.00) scale(1,0.89)" class="c" text-anchor="end" >多元化商品</text>
<text x="428.40" y="1024.55" class="d" text-anchor="start" >7.6%</text>
<text x="789.01" y="1023.69" class="d" text-anchor="start" >3.4%</text>
<text transform="translate(215.50,1055.80) scale(1,0.93)" class="h" text-anchor="end" clip-path="url(#cH)">另类投资</text>
<text transform="translate(216.40,1069.10) scale(1,0.92)" class="c" text-anchor="end" >综合（所有策略）</text>
<text x="371.70" y="1067.53" class="d" text-anchor="start" >1.3%</text>
<text x="699.09" y="1066.53" class="d" text-anchor="end" >-0.1%</text>
<text transform="translate(214.20,1083.40) scale(1,0.92)" class="c" text-anchor="end" >相对价值</text>
<text x="365.40" y="1081.86" class="d" text-anchor="start" >0.6%</text>
<text x="724.00" y="1080.81" class="d" text-anchor="start" >0.0%</text>
<text transform="translate(214.20,1097.70) scale(1,0.92)" class="c" text-anchor="end" >事件驱动</text>
<text x="372.60" y="1096.18" class="d" text-anchor="start" >1.4%</text>
<text x="700.00" y="1095.10" class="d" text-anchor="end" >0.0%</text>
<text transform="translate(214.20,1112.00) scale(1,0.92)" class="c" text-anchor="end" >股票多<tspan dx="1.6">/</tspan><tspan dx="1.7">空</tspan></text>
<text x="370.80" y="1110.51" class="d" text-anchor="start" >1.2%</text>
<text x="695.26" y="1109.38" class="d" text-anchor="end" >-0.3%</text>
<text transform="translate(214.20,1126.30) scale(1,0.92)" class="c" text-anchor="end" >宏观商品交易顾问</text>
<text x="380.70" y="1124.04" class="d" text-anchor="start" >2.3%</text>
<text x="693.35" y="1123.66" class="d" text-anchor="end" >-0.4%</text>
<text x="240.50" y="1147.80" class="d" text-anchor="middle" >-12%</text>
<text x="276.50" y="1147.80" class="d" text-anchor="middle" >-8%</text>
<text x="312.50" y="1147.80" class="d" text-anchor="middle" >-4%</text>
<text x="348.50" y="1147.80" class="d" text-anchor="middle" >0%</text>
<text x="384.50" y="1147.80" class="d" text-anchor="middle" >4%</text>
<text x="420.50" y="1147.80" class="d" text-anchor="middle" >8%</text>
<text x="456.50" y="1147.80" class="d" text-anchor="middle" >12%</text>
<text x="492.50" y="1147.80" class="d" text-anchor="middle" >16%</text>
<text x="528.50" y="1147.80" class="d" text-anchor="middle" >20%</text>
<text x="564.50" y="1147.80" class="d" text-anchor="middle" >24%</text>
<text x="636.00" y="1147.80" class="d" text-anchor="middle" >-4.0%</text>
<text x="712.50" y="1147.80" class="d" text-anchor="middle" >0.0%</text>
<text x="789.00" y="1147.80" class="d" text-anchor="middle" >4.0%</text>
<text x="865.50" y="1147.80" class="d" text-anchor="middle" >8.0%</text>
<text x="942.00" y="1147.80" class="d" text-anchor="middle" >12.0%</text>
<text x="393.30" y="25.60" class="t" text-anchor="start" >年初至今</text>
<text x="759.50" y="23.20" class="t" text-anchor="start" >一周</text>
<text x="10.50" y="1185.20" class="f" text-anchor="start" >资料来源：明晟、摩根大通、Barclays Capital、花旗集团、道琼斯、HFRX、富时、彭博、渣打</text>
<text x="10.50" y="1202.50" class="f" text-anchor="start" >*除非另外说明，否则所有表现均以美元计价。<tspan dx="9.9">“</tspan>2026 年初至今”<tspan dx="9.9">指</tspan> 2025 年 12 月 31 日到 2026 年 1 月 22 日的表现，<tspan dx="9.9">“</tspan>过去一周”<tspan dx="9.9">指</tspan> 2026 年 1 月</text>
<text x="10.50" y="1219.40" class="f" text-anchor="start" word-spacing="-0.6">15 日至 2026 年 1 月 22 日的表现</text>
</g>
</svg>
</body></html>
